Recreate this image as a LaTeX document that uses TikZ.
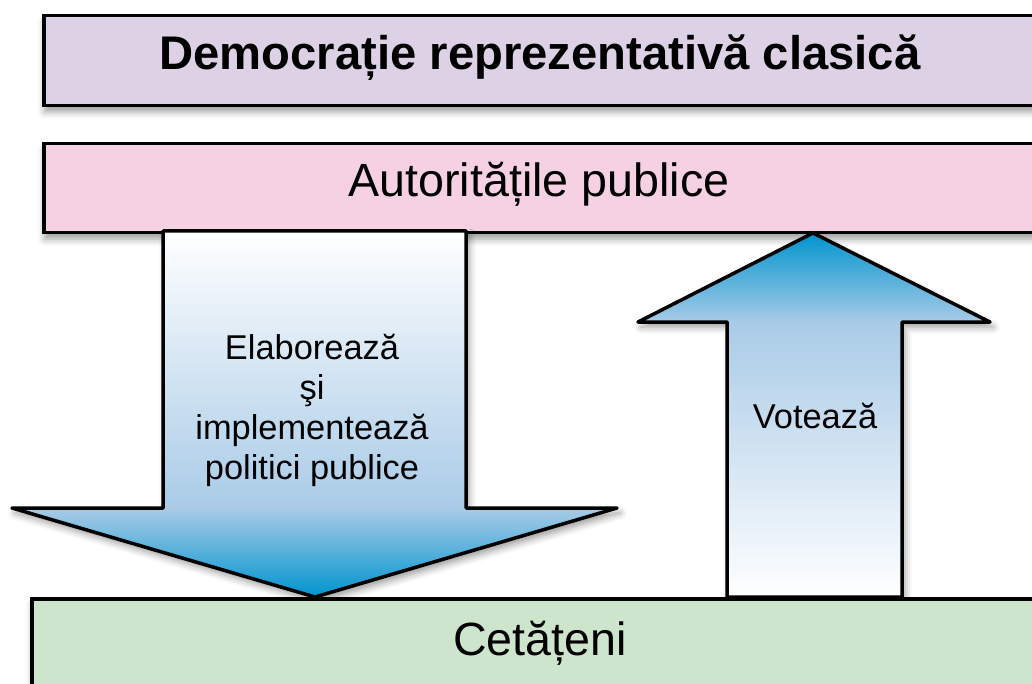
\documentclass[tikz,border=0pt]{standalone}
\usepackage{fontspec}
\setmainfont{Liberation Sans}
\usetikzlibrary{shadows.blur}

\definecolor{lav}{HTML}{DDD1E6}
\definecolor{pinkbox}{HTML}{F6D0E3}
\definecolor{greenbox}{HTML}{CDE5CD}
\definecolor{arrowdark}{HTML}{0094CE}
\definecolor{arrowmid}{HTML}{A9CBE7}

\pgfdeclareverticalshading{downshade}{100bp}{color(0bp)=(arrowdark); color(25bp)=(arrowdark); color(37.2bp)=(arrowmid); color(75bp)=(white); color(100bp)=(white)}
\pgfdeclareverticalshading{upshade}{100bp}{color(0bp)=(white); color(25bp)=(white); color(62.7bp)=(arrowmid); color(75bp)=(arrowdark); color(100bp)=(arrowdark)}

\tikzset{
  box/.style={draw, line width=3.5pt, inner sep=0pt, anchor=north west,
    blur shadow={shadow xshift=1pt, shadow yshift=-6pt, shadow blur radius=7pt, shadow opacity=40}},
  blockarrow/.style={draw, line width=3.5pt, line join=round,
    blur shadow={shadow xshift=3pt, shadow yshift=-5pt, shadow blur radius=7pt, shadow opacity=40}},
  bigtext/.style={inner sep=0pt, anchor=base, font=\fontsize{46.6}{52}\selectfont},
  arrowtext/.style={inner sep=0pt, font=\fontsize{34.4}{40}\selectfont}
}

\begin{document}
\begin{tikzpicture}[x=1pt, y=-1pt]
\useasboundingbox (0,0) rectangle (1032,684);
\clip (0,0) rectangle (1032,684);

% upper boxes
\node[box, fill=lav, minimum width=1010pt, minimum height=90pt] (top) at (42,14) {};
\node[box, fill=pinkbox, minimum width=1010pt, minimum height=89pt] (auth) at (42,142) {};

% arrows
\path[blockarrow, shading=downshade] (163,231) -- (466,231) -- (466,508) -- (617,508)
  -- (315,597) coordinate (downtip) -- (12,508) -- (163,508) -- cycle;
\path[blockarrow, shading=upshade] (727,597) -- (727,322) -- (638,322)
  -- (813,233) coordinate (uptip) -- (990,322) -- (902,322) -- (902,597) -- cycle;

% lower box
\node[box, fill=greenbox, minimum width=1020pt, minimum height=100pt] (cit) at (30,597) {};

% texts
\node[bigtext, font=\fontsize{47.2}{52}\selectfont\bfseries] (toptext) at (540,70) {Democrație reprezentativă clasică};
\node[bigtext] (authtext) at (539,197) {Autoritățile publice};
\node[bigtext] (cittext) at (540,655) {Cetățeni};
\node[arrowtext, align=center] (elab) at (312,410) {Elaborează\\şi\\implementează\\politici publice};
\node[arrowtext, anchor=base] (vot) at (815,428) {Votează};
\end{tikzpicture}
\end{document}
